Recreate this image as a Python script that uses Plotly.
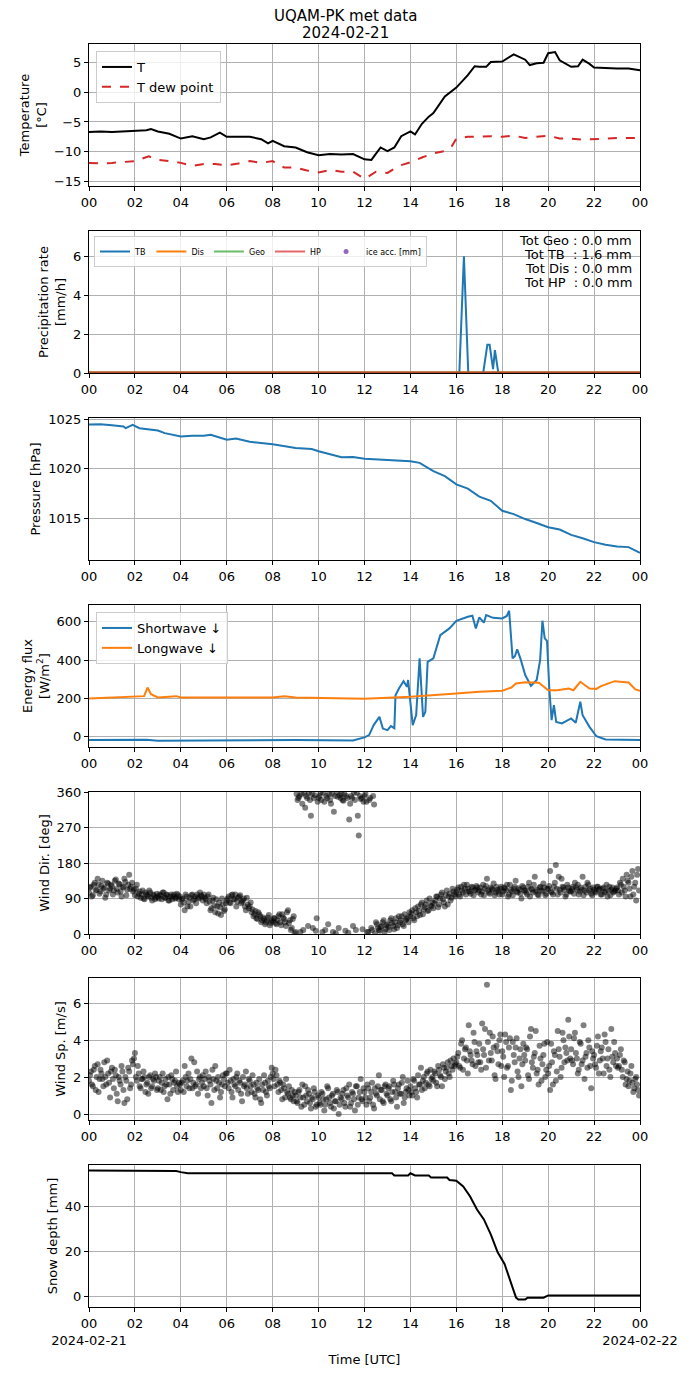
import plotly.graph_objects as go
from plotly.subplots import make_subplots

# ---- temperature (hours since 00 UTC) ----
temp_h = [0, 0.5, 1, 1.5, 2, 2.5, 2.7, 3, 3.5, 4, 4.5, 5, 5.3, 5.7, 6, 6.5, 7, 7.5, 7.8, 8,
          8.5, 9, 9.5, 10, 10.5, 11, 11.5, 12, 12.3, 12.7, 13, 13.3, 13.6, 14, 14.2, 14.5, 14.8, 15, 15.5, 16,
          16.5, 16.8, 17, 17.3, 17.5, 18, 18.5, 19, 19.2, 19.5, 19.8, 20, 20.3, 20.5, 21, 21.3, 21.5, 21.8, 22, 23,
          23.5, 24]
temp = [-6.7, -6.6, -6.7, -6.6, -6.4, -6.4, -6.2, -6.6, -7.0, -7.8, -7.4, -7.9, -7.6, -6.8, -7.5, -7.5, -7.5, -7.9, -8.6, -8.2,
        -9.1, -9.3, -10.1, -10.6, -10.4, -10.5, -10.4, -11.3, -11.4, -9.3, -9.9, -9.3, -7.4, -6.6, -7.1, -5.3, -4.1, -3.5, -0.7, 0.8,
        2.9, 4.4, 4.3, 4.3, 5.1, 5.2, 6.4, 5.5, 4.6, 4.9, 5.0, 6.6, 6.8, 5.4, 4.3, 4.4, 5.5, 4.8, 4.2, 4.0,
        4.0, 3.7]
dew_h = [0, 0.5, 1, 1.5, 2, 2.6, 3, 3.5, 4, 4.5, 5, 5.5, 6, 6.5, 7, 7.5, 8, 8.5, 9, 9.5,
         10, 10.5, 11, 11.5, 12, 12.5, 13, 13.5, 14, 14.5, 15, 15.5, 15.8, 16, 16.5, 17, 17.5, 18, 18.5, 19,
         19.5, 20, 20.5, 21, 21.5, 22, 23, 24]
dew = [-11.9, -12.0, -11.9, -11.8, -11.6, -10.8, -11.4, -11.6, -11.9, -12.4, -12.1, -12.1, -12.3, -12.0, -11.6, -11.9, -11.6, -12.7, -12.7, -13.2,
       -13.5, -13.1, -13.4, -13.4, -14.6, -13.4, -13.6, -12.4, -11.8, -11.0, -10.3, -9.9, -9.1, -7.8, -7.5, -7.5, -7.4, -7.5, -7.3, -7.7,
       -7.5, -7.3, -7.8, -7.8, -8.0, -7.9, -7.7, -7.7]

# ---- precipitation rate [mm/h] ----
tb_h = [0, 16.13, 16.33, 16.52, 17.17, 17.35, 17.45, 17.6, 17.68, 17.83, 24]
tb = [0, 0, 6.0, 0, 0, 1.45, 1.45, 0.2, 1.18, 0, 0]
flat_h = [0, 24]
dis = [0.03, 0.03]
geo = [0.03, 0.03]
hp = [0.03, 0.03]
tot_names = ["Geo", "TB\u00a0", "Dis", "HP\u00a0"]
tot_vals = [0.0, 1.6, 0.0, 0.0]

# ---- pressure [hPa] ----
p_h = [0, 0.5, 1, 1.5, 1.6, 1.9, 2.2, 3, 3.3, 4, 4.5, 5, 5.3, 6, 6.4, 7, 8, 9, 9.7, 10,
       11, 11.5, 12, 13, 14, 14.4, 15, 15.5, 16, 16.5, 17, 17.5, 18, 18.5, 19, 19.5, 20, 20.5, 21, 21.5,
       22, 22.5, 23, 23.5, 24]
pres = [1024.47, 1024.5, 1024.4, 1024.27, 1024.1, 1024.43, 1024.1, 1023.87, 1023.6, 1023.27,
        1023.33, 1023.33, 1023.43, 1022.93, 1023.07, 1022.73, 1022.47, 1022.1, 1022.0, 1021.77,
        1021.17, 1021.2, 1021.03, 1020.93, 1020.77, 1020.6, 1019.77, 1019.27, 1018.43, 1018.0,
        1017.2, 1016.77, 1015.77, 1015.43, 1014.93, 1014.53, 1014.1, 1013.87, 1013.33, 1013.0,
        1012.6, 1012.33, 1012.17, 1012.1, 1011.53]

# ---- radiation [W/m2] ----
sw_h = [0, 2, 2.5, 3, 6, 9, 11.5, 12, 12.2, 12.4, 12.65, 12.8, 13, 13.15, 13.3, 13.35, 13.5, 13.7, 13.85, 13.9,
        14.1, 14.25, 14.4, 14.55, 14.65, 14.75, 15, 15.3, 15.7, 16, 16.5, 16.7, 16.85, 17, 17.2, 17.3, 17.6, 18, 18.2, 18.3,
        18.45, 18.55, 18.65, 18.8, 19, 19.25, 19.5, 19.65, 19.75, 19.85, 19.95, 20.05, 20.15, 20.25, 20.35, 20.6, 21, 21.2, 21.4, 21.5,
        21.8, 22.1, 22.5, 24]
sw = [-17, -17, -15, -20, -18, -17, -19, -3, 9, 61, 104, 43, 35, 56, 45, 217, 252, 290, 261, 296,
      61, 113, 409, 104, 130, 391, 409, 530, 565, 605, 626, 631, 565, 623, 595, 635, 620, 617, 630, 657,
      409, 420, 456, 405, 322, 266, 296, 400, 605, 513, 500, 252, 87, 165, 78, 70, 96, 73, 183, 113,
      52, 3, -14, -17]
lw_h = [0, 2, 2.4, 2.55, 2.7, 3, 3.8, 4, 8, 8.5, 9, 12, 14, 16, 17, 18, 18.4, 18.6, 19, 19.6,
        20, 20.4, 20.9, 21.1, 21.4, 21.8, 22.1, 22.3, 22.9, 23.5, 23.8, 24]
lw = [200, 209, 212, 257, 222, 205, 212, 205, 205, 212, 205, 198, 209, 226, 235, 240, 257, 278, 285, 282,
      243, 243, 252, 243, 287, 252, 250, 264, 290, 283, 247, 240]

# ---- wind, two interleaved sets of 5-min samples (second one 2.5 min later) ----
wind_h = [i / 12 for i in range(288)] + [(i + 0.5) / 12 for i in range(288)]
wind_dir = [
    105, 120, 98, 130, 112, 125, 108, 135, 118, 100, 128, 115,
    122, 110, 138, 105, 126, 95, 118, 132, 112, 150, 120, 108,
    98, 125, 102, 92, 110, 88, 100, 95, 105, 85, 98, 92,
    95, 100, 88, 105, 92, 98, 85, 100, 95, 90, 102, 88,
    75, 90, 60, 95, 82, 70, 100, 88, 78, 92, 105, 95,
    100, 88, 95, 82, 65, 92, 55, 70, 80, 48, 75, 62,
    85, 95, 78, 100, 88, 70, 92, 98, 82, 90, 60, 75,
    70, 55, 45, 58, 38, 50, 30, 42, 25, 35, 48, 28,
    32, 40, 25, 45, 30, 50, 38, 20, 60, 35, 15, 45,
    5, 340, 350, 355, 10, 320, 345, 358, 300, 15, 352, 40,
    345, 358, 5, 335, 350, 25, 340, 355, 310, 2, 348, 352,
    355, 338, 8, 345, 290, 350, 20, 340, 358, 250, 342, 12,
    350, 335, 5, 345, 10, 328, 30, 15, 8, 20, 35, 12,
    25, 10, 40, 20, 30, 15, 45, 35, 25, 50, 38, 30,
    45, 60, 35, 55, 70, 48, 80, 62, 75, 58, 90, 70,
    65, 85, 95, 75, 100, 88, 70, 110, 95, 85, 115, 100,
    105, 118, 95, 110, 125, 100, 115, 108, 120, 98, 112, 118,
    110, 100, 125, 115, 140, 105, 118, 112, 98, 120, 108, 115,
    100, 118, 110, 95, 125, 108, 115, 135, 105, 112, 90, 118,
    110, 100, 130, 115, 105, 145, 112, 98, 120, 108, 118, 102,
    115, 160, 105, 120, 175, 100, 112, 140, 118, 95, 125, 110,
    108, 120, 130, 112, 100, 118, 145, 110, 105, 125, 115, 98,
    112, 105, 120, 115, 100, 118, 108, 95, 120, 112, 105, 110,
    118, 100, 125, 140, 110, 150, 130, 95, 160, 120, 85, 165,
    # second set
    118, 95, 125, 110, 140, 102, 122, 115, 92, 130, 110, 125,
    100, 135, 115, 128, 108, 120, 140, 98, 125, 115, 130, 112,
    115, 95, 108, 100, 90, 105, 98, 110, 92, 100, 88, 102,
    90, 98, 105, 92, 100, 85, 95, 88, 100, 92, 98, 95,
    88, 80, 100, 70, 92, 98, 85, 95, 100, 90, 98, 85,
    92, 78, 100, 60, 85, 72, 88, 52, 68, 90, 58, 78,
    90, 80, 98, 88, 100, 82, 95, 78, 85, 70, 92, 65,
    80, 62, 50, 40, 55, 45, 35, 38, 30, 42, 22, 35,
    40, 28, 35, 50, 22, 42, 30, 55, 28, 10, 38, 2,
    355, 345, 5, 330, 358, 350, 20, 340, 355, 345, 8, 335,
    350, 340, 358, 10, 345, 355, 330, 5, 350, 360, 15, 345,
    340, 355, 350, 3, 330, 345, 358, 10, 300, 350, 345, 335,
    355, 5, 340, 15, 350, 2, 25, 10, 18, 30, 5, 22,
    18, 35, 28, 12, 40, 22, 30, 45, 20, 35, 42, 55,
    52, 40, 65, 45, 58, 75, 50, 68, 85, 60, 72, 80,
    78, 95, 68, 90, 105, 80, 98, 75, 102, 92, 108, 95,
    112, 100, 120, 105, 115, 125, 108, 102, 118, 110, 122, 105,
    118, 108, 98, 122, 110, 102, 115, 128, 105, 112, 100, 120,
    108, 115, 125, 100, 112, 98, 120, 108, 116, 102, 122, 110,
    105, 120, 95, 112, 125, 108, 100, 118, 110, 128, 98, 115,
    122, 108, 100, 130, 115, 145, 105, 120, 112, 100, 118, 108,
    115, 102, 118, 125, 108, 112, 98, 120, 130, 110, 102, 118,
    108, 120, 112, 100, 115, 105, 125, 110, 98, 118, 108, 115,
    110, 130, 105, 120, 95, 135, 115, 145, 100, 130, 150, 110,
]
wind_sp = [
    1.8, 2.3, 1.5, 2.6, 2.0, 1.2, 2.4, 1.9, 2.8, 1.6, 2.2, 0.9,
    2.5, 1.4, 2.1, 0.7, 1.8, 2.6, 1.3, 2.0, 0.8, 2.3, 1.6, 2.7,
    3.3, 1.8, 2.2, 1.4, 1.9, 2.0, 1.6, 1.1, 2.1, 1.5, 1.8, 2.0,
    1.4, 2.0, 1.7, 1.2, 1.9, 0.8, 1.6, 2.1, 1.3, 1.8, 1.5, 1.7,
    1.3, 1.8, 2.6, 1.5, 2.2, 1.9, 1.4, 2.8, 1.6, 1.1, 2.0, 1.7,
    1.5, 2.3, 1.0, 1.8, 0.6, 1.9, 2.6, 1.4, 1.7, 1.2, 2.1, 1.5,
    2.2, 1.4, 1.8, 0.9, 1.6, 2.0, 1.3, 1.7, 0.7, 1.5, 2.3, 1.1,
    1.8, 1.2, 1.6, 0.9, 1.4, 1.9, 0.6, 1.3, 1.7, 1.0, 1.5, 2.0,
    2.2, 1.5, 2.1, 1.2, 1.7, 0.8, 1.4, 1.9, 1.1, 0.9, 1.3, 0.7,
    1.0, 0.6, 1.3, 0.4, 0.9, 1.5, 0.7, 1.1, 0.3, 0.8, 1.2, 0.5,
    0.9, 0.5, 1.1, 0.2, 0.8, 1.4, 0.6, 1.0, 0.3, 0.7, 1.2, 0.5,
    0.8, 1.3, 0.4, 1.0, 1.6, 0.6, 1.1, 0.2, 1.5, 0.9, 1.9, 0.7,
    1.2, 0.5, 1.4, 0.9, 1.7, 0.3, 1.1, 1.5, 0.8, 1.3, 0.6, 1.6,
    1.0, 1.5, 0.7, 1.8, 1.2, 0.4, 1.6, 1.1, 2.0, 0.9, 1.4, 1.3,
    1.5, 1.0, 1.8, 1.2, 2.1, 1.6, 1.3, 2.0, 1.7, 2.3, 1.5, 1.9,
    1.8, 2.2, 1.5, 2.4, 2.0, 2.7, 1.9, 2.5, 2.2, 2.9, 2.4, 2.6,
    2.8, 3.3, 2.5, 4.0, 3.0, 3.6, 2.2, 3.4, 2.9, 4.4, 2.6, 3.2,
    3.8, 2.4, 3.5, 4.6, 7.0, 2.9, 3.3, 4.2, 2.1, 3.7, 2.7, 4.3,
    3.4, 2.0, 3.9, 2.6, 4.1, 1.8, 3.2, 3.6, 2.3, 3.0, 1.5, 3.8,
    2.9, 3.5, 1.9, 4.6, 2.5, 3.3, 2.2, 1.6, 3.0, 2.7, 3.8, 2.4,
    2.2, 1.3, 2.8, 3.4, 1.8, 4.5, 3.1, 2.5, 4.0, 3.6, 2.9, 4.2,
    3.5, 2.7, 4.4, 3.0, 2.4, 3.8, 2.9, 1.9, 3.3, 4.0, 2.6, 3.4,
    3.2, 2.5, 4.2, 2.9, 3.6, 2.2, 3.9, 3.0, 2.4, 4.6, 2.8, 3.3,
    3.0, 2.6, 3.5, 2.0, 2.8, 1.9, 1.5, 2.2, 1.7, 1.4, 2.0, 1.3,
    # second set
    2.1, 1.6, 2.4, 1.3, 2.7, 1.9, 2.2, 1.5, 2.0, 2.9, 1.7, 2.3,
    1.9, 2.4, 1.1, 2.0, 1.6, 2.3, 0.6, 1.8, 2.5, 1.4, 2.9, 3.0,
    2.0, 2.6, 1.5, 1.9, 2.3, 1.2, 1.7, 2.0, 1.4, 1.9, 2.2, 1.3,
    1.8, 1.3, 2.2, 1.5, 1.6, 2.0, 1.1, 1.9, 1.7, 2.3, 1.2, 1.6,
    1.7, 1.2, 2.0, 1.8, 1.4, 3.0, 1.7, 1.5, 2.3, 1.9, 1.4, 2.1,
    1.9, 1.4, 2.0, 1.6, 2.4, 1.3, 1.8, 2.0, 0.9, 1.6, 1.9, 2.2,
    1.7, 2.4, 1.2, 1.9, 1.5, 2.2, 1.8, 1.1, 2.0, 1.6, 1.4, 1.9,
    1.5, 2.1, 1.1, 1.7, 1.3, 0.8, 1.6, 2.1, 1.2, 1.8, 1.4, 2.5,
    1.9, 2.4, 1.6, 1.8, 1.3, 1.6, 0.9, 1.2, 1.5, 0.8, 1.0, 1.2,
    0.7, 1.2, 0.9, 1.6, 0.5, 1.0, 1.3, 0.6, 0.9, 1.4, 0.4, 1.0,
    0.6, 1.2, 0.8, 0.5, 1.5, 0.9, 0.4, 1.1, 0.7, 1.3, 0.0, 0.9,
    1.1, 0.6, 1.4, 0.9, 0.4, 1.2, 0.8, 1.5, 0.5, 1.2, 0.8, 1.4,
    0.9, 1.6, 0.7, 1.2, 0.5, 1.4, 1.0, 2.1, 1.3, 0.7, 1.5, 1.1,
    1.4, 0.8, 1.2, 1.6, 0.9, 1.4, 1.1, 1.7, 0.6, 1.2, 1.8, 1.0,
    1.2, 1.9, 1.4, 0.9, 1.6, 2.5, 1.8, 1.4, 2.2, 1.6, 2.4, 2.0,
    2.3, 1.7, 2.6, 2.1, 1.5, 2.5, 2.3, 2.8, 2.0, 2.6, 3.0, 2.7,
    3.1, 2.6, 3.8, 2.4, 3.5, 2.9, 4.8, 3.2, 2.7, 3.9, 3.4, 2.8,
    2.8, 4.9, 3.2, 2.5, 3.9, 4.4, 2.9, 3.6, 1.9, 3.4, 4.0, 2.6,
    3.1, 4.3, 2.5, 3.6, 1.3, 3.9, 2.8, 4.1, 2.0, 3.5, 2.7, 3.2,
    3.6, 2.1, 4.2, 2.8, 3.1, 4.5, 2.4, 3.7, 1.8, 3.2, 2.0, 3.9,
    2.6, 3.8, 1.6, 3.2, 2.3, 3.5, 2.0, 4.4, 2.8, 3.3, 5.1, 3.0,
    2.9, 4.1, 3.3, 2.2, 3.9, 2.7, 4.8, 3.1, 2.5, 3.6, 1.4, 3.0,
    2.7, 3.7, 2.2, 3.4, 3.0, 4.3, 2.6, 3.5, 2.0, 3.1, 3.9, 2.6,
    2.5, 3.2, 2.4, 2.9, 1.6, 2.3, 1.8, 2.6, 1.2, 1.9, 1.6, 1.0,
]

# ---- snow depth [mm] ----
s_h = [0, 3.3, 3.8, 4.0, 4.3, 13.2, 13.3, 13.9, 14.0, 14.2, 14.8, 14.9, 15.6, 15.7, 16.0, 16.3, 16.6, 16.9, 17.2, 17.5,
       17.8, 18.1, 18.3, 18.45, 18.6, 18.7, 19.0, 19.1, 19.8, 20.0, 24]
snow = [56.3, 56.3, 56.1, 55.6, 55.1, 55.1, 54.1, 54.1, 55.1, 54.1, 54.1, 53.2, 53.2, 52.1, 51.7, 49.2, 44.7, 38.8, 34.4, 27.7,
        19.6, 14.4, 8.4, 4.0, -0.7, -1.5, -1.5, -0.7, -0.7, 0.3, 0.3]

hour_ticks = list(range(0, 25, 2))
hour_labels = ["%02d" % (h % 24) for h in hour_ticks]

FONT = "DejaVu Sans"
# the page body adds an 8 px margin, so the figure is 16 px smaller than the window
# and every pixel position below is written in window pixels and shifted by OFF
OFF = 8
W, H = 690 - 2 * OFF, 1377 - 2 * OFF
PLOT_L, PLOT_R = 89, 640
PANEL_TOPS = [44, 231, 418, 605, 792, 978, 1165]
PANEL_H = 142
L_MARG = PLOT_L - OFF
R_MARG = W - (PLOT_R - OFF)
T_MARG = PANEL_TOPS[0] - OFF
B_MARG = H - (PANEL_TOPS[-1] + PANEL_H - OFF)
PH = H - T_MARG - B_MARG


def ypap(px):
    return (H - B_MARG - (px - OFF)) / PH


def xpap(px):
    return (px - PLOT_L) / (PLOT_R - PLOT_L)


fig = make_subplots(rows=7, cols=1)

# panel 1
fig.add_trace(go.Scatter(x=temp_h, y=temp, mode="lines", name="T",
                         line=dict(color="black", width=2), legend="legend"), row=1, col=1)
fig.add_trace(go.Scatter(x=dew_h, y=dew, mode="lines", name="T dew point",
                         line=dict(color="#d62728", width=2, dash="dash"), legend="legend"), row=1, col=1)

# panel 2
fig.add_trace(go.Scatter(x=tb_h, y=tb, mode="lines", name="TB",
                         line=dict(color="#1f77b4", width=2), legend="legend2"), row=2, col=1)
fig.add_trace(go.Scatter(x=flat_h, y=dis, mode="lines", name="Dis",
                         line=dict(color="#ff7f0e", width=2), legend="legend2"), row=2, col=1)
fig.add_trace(go.Scatter(x=flat_h, y=geo, mode="lines", name="Geo",
                         line=dict(color="rgba(44,160,44,0.7)", width=2), legend="legend2"), row=2, col=1)
fig.add_trace(go.Scatter(x=flat_h, y=hp, mode="lines", name="HP",
                         line=dict(color="rgba(214,39,40,0.7)", width=2), legend="legend2"), row=2, col=1)
fig.add_trace(go.Scatter(x=[None], y=[None], mode="markers", name="ice acc. [mm]",
                         marker=dict(color="#9467bd", size=5), legend="legend2"), row=2, col=1)

# panel 3
fig.add_trace(go.Scatter(x=p_h, y=pres, mode="lines", showlegend=False,
                         line=dict(color="#1f77b4", width=2)), row=3, col=1)

# panel 4
fig.add_trace(go.Scatter(x=sw_h, y=sw, mode="lines", name="Shortwave \u2193",
                         line=dict(color="#1f77b4", width=2), legend="legend3"), row=4, col=1)
fig.add_trace(go.Scatter(x=lw_h, y=lw, mode="lines", name="Longwave \u2193",
                         line=dict(color="#ff7f0e", width=2), legend="legend3"), row=4, col=1)

# panel 5, 6
fig.add_trace(go.Scatter(x=wind_h, y=wind_dir, mode="markers", showlegend=False,
                         marker=dict(color="rgba(0,0,0,0.5)", size=6, line=dict(width=0))), row=5, col=1)
fig.add_trace(go.Scatter(x=wind_h, y=wind_sp, mode="markers", showlegend=False,
                         marker=dict(color="rgba(0,0,0,0.5)", size=6, line=dict(width=0))), row=6, col=1)

# panel 7
fig.add_trace(go.Scatter(x=s_h, y=snow, mode="lines", showlegend=False,
                         line=dict(color="black", width=2)), row=7, col=1)

ytitles = ["Temperature<br>[\u00b0C]", "Precipitation rate<br>[mm/h]", "Pressure [hPa]",
           "Energy flux<br>[W/m<sup>2</sup>]", "Wind Dir. [deg]", "Wind Sp. [m/s]", "Snow depth [mm]"]
yranges = [[-15.8, 8.15], [0, 7.3], [1010.8, 1025.13], [-53, 687], [0, 360], [-0.32, 7.36], [-4.9, 58.8]]
yticks = [[-15, -10, -5, 0, 5], [0, 2, 4, 6], [1015, 1020, 1025], [0, 200, 400, 600],
          [0, 90, 180, 270, 360], [0, 2, 4, 6], [0, 20, 40]]

axis_style = dict(showline=True, linecolor="black", linewidth=1, mirror=True,
                  ticks="outside", ticklen=4, tickcolor="black", automargin=False,
                  showgrid=True, gridcolor="#b0b0b0", gridwidth=1, zeroline=False,
                  tickfont=dict(family=FONT, size=13, color="black"))

for i in range(7):
    labels = list(hour_labels)
    if i == 6:
        labels[0] = "00<br>2024-02-21"
        labels[-1] = "00<br>2024-02-22"
    fig.update_xaxes(range=[0, 24], tickvals=hour_ticks, ticktext=labels, tickangle=0,
                     row=i + 1, col=1, **axis_style)
    fig.update_yaxes(range=yranges[i], tickvals=yticks[i],
                     domain=[ypap(PANEL_TOPS[i] + PANEL_H), ypap(PANEL_TOPS[i])],
                     title=dict(text=ytitles[i], font=dict(family=FONT, size=13, color="black"), standoff=4),
                     row=i + 1, col=1, **axis_style)

fig.update_xaxes(title=dict(text="Time [UTC]", font=dict(family=FONT, size=13, color="black"), standoff=8),
                 row=7, col=1)

# title, two lines
for txt, ypx in [("UQAM-PK met data", 16), ("2024-02-21", 33)]:
    fig.add_annotation(xref="paper", yref="paper", x=xpap(345), y=ypap(ypx), xanchor="center",
                       yanchor="middle", showarrow=False, text=txt,
                       font=dict(family=FONT, size=15, color="black"))

# precipitation totals
for k, (nm, val) in enumerate(zip(tot_names, tot_vals)):
    fig.add_annotation(xref="paper", yref="paper", x=xpap(634), y=ypap(240 + 14 * k), xanchor="right",
                       yanchor="middle", showarrow=False, text="Tot %s : %.1f mm" % (nm, val),
                       font=dict(family=FONT, size=13, color="black"))

legend_box = dict(bgcolor="rgba(255,255,255,0.8)", bordercolor="#cccccc", borderwidth=1)

fig.update_layout(
    width=W, height=H,
    margin=dict(l=L_MARG, r=R_MARG, t=T_MARG, b=B_MARG, autoexpand=False),
    paper_bgcolor="white", plot_bgcolor="white",
    font=dict(family=FONT, size=13, color="black"),
    legend=dict(x=xpap(96), y=ypap(51), xanchor="left", yanchor="top",
                font=dict(family=FONT, size=13), **legend_box),
    legend2=dict(x=xpap(94), y=ypap(236), xanchor="left", yanchor="top", orientation="h",
                 font=dict(family=FONT, size=8), itemwidth=30, tracegroupgap=0, **legend_box),
    legend3=dict(x=xpap(96), y=ypap(612), xanchor="left", yanchor="top",
                 font=dict(family=FONT, size=13), **legend_box),
)

fig.write_html("out.html")
